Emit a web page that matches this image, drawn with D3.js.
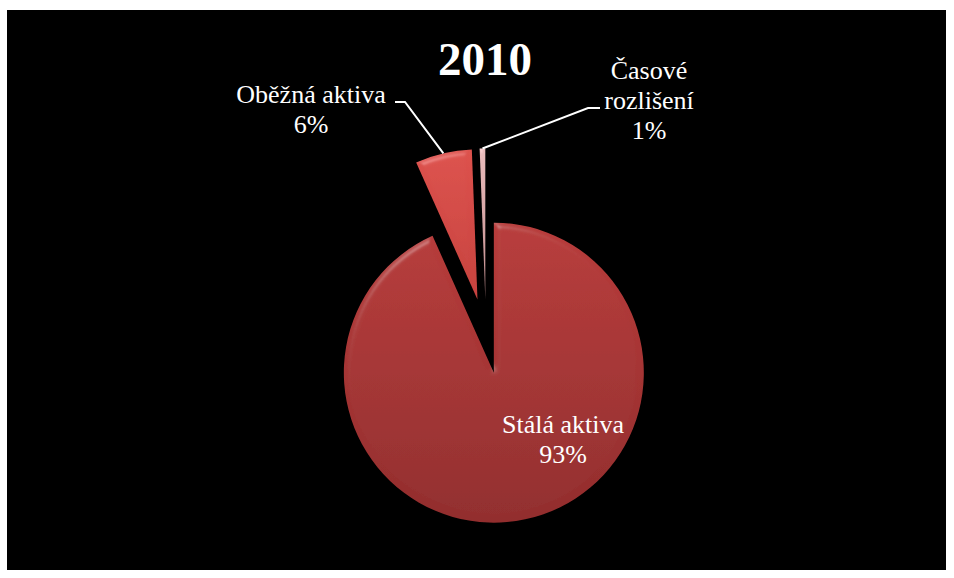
<!DOCTYPE html>
<html>
<head>
<meta charset="utf-8">
<script src="https://cdn.jsdelivr.net/npm/d3@7"></script>
<style>
  html, body { margin: 0; padding: 0; background: #fff; }
  svg { display: block; }
</style>
</head>
<body>
<div id="chart"></div>
<script>
// Asset structure for 2010 — three categories, shares in percent.
const categories = ["Stálá aktiva", "Oběžná aktiva", "Časové rozlišení"];
const shares = [93.3, 6.1, 0.6];
const percentLabels = ["93%", "6%", "1%"];
// Category names as Excel wrapped them.
const labelLines = [["Stálá aktiva"], ["Oběžná aktiva"], ["Časové", "rozlišení"]];
const title = "2010";

const WIDTH = 954;
const HEIGHT = 578;
const CENTER = [486, 336];
const RADIUS = 150;
const EXPLODE = 37.5; // 25% point explosion
const LINE_HEIGHT = 30;
const SERIF = "Liberation Serif, Times New Roman, Times, DejaVu Serif, serif";

// [top, bottom] gradient stops per slice
const SLICE_COLORS = [
    ["#b83c3b", "#922d2d"],
    ["#dd524d", "#c6423e"],
    ["#eabcbc", "#c08c8c"],
];

// Label anchor (centre x, first baseline) and leader-line elbows.
const LABEL_POS = [
    { x: 563, y: 433, leader: null },
    { x: 311, y: 103, leader: [[405, 102], [395, 102]] },
    { x: 649, y: 79, leader: [[588, 108], [600, 108]] },
];

const svg = d3.select("#chart").append("svg")
    .attr("width", WIDTH)
    .attr("height", HEIGHT);

svg.append("rect")
    .attr("x", 7).attr("y", 10)
    .attr("width", 939).attr("height", 560)
    .attr("fill", "#000");

const defs = svg.append("defs");

SLICE_COLORS.forEach(([c0, c1], i) => {
    const g = defs.append("linearGradient")
        .attr("id", `grad${i}`)
        .attr("x1", 0).attr("y1", 0).attr("x2", 0).attr("y2", 1);
    g.append("stop").attr("offset", "0%").attr("stop-color", c0);
    g.append("stop").attr("offset", "100%").attr("stop-color", c1);
});

// Soft bevel: specular light from the top-left on a blurred alpha edge.
const bevel = defs.append("filter").attr("id", "bevel")
    .attr("x", "-10%").attr("y", "-10%").attr("width", "120%").attr("height", "120%");
bevel.append("feGaussianBlur").attr("in", "SourceAlpha").attr("stdDeviation", 3).attr("result", "blur");
bevel.append("feSpecularLighting")
    .attr("in", "blur").attr("surfaceScale", 4).attr("specularConstant", 0.5)
    .attr("specularExponent", 30).attr("lighting-color", "#ffffff").attr("result", "spec")
    .append("fePointLight").attr("x", -4000).attr("y", -8000).attr("z", 6000);
bevel.append("feComposite").attr("in", "spec").attr("in2", "SourceAlpha")
    .attr("operator", "in").attr("result", "specOut");
bevel.append("feComposite").attr("in", "SourceGraphic").attr("in2", "specOut")
    .attr("operator", "arithmetic").attr("k1", 0).attr("k2", 1).attr("k3", 0.25).attr("k4", 0);

const pie = d3.pie().sort(null).value((d) => d);
const arcs = pie(shares);
const arc = d3.arc().innerRadius(0).outerRadius(RADIUS);

function offsetOf(d) {
    const mid = (d.startAngle + d.endAngle) / 2;
    return [Math.sin(mid) * EXPLODE, -Math.cos(mid) * EXPLODE];
}

const gPie = svg.append("g").attr("transform", `translate(${CENTER[0]},${CENTER[1]})`);

gPie.selectAll("path.slice")
    .data(arcs)
    .join("path")
    .attr("class", "slice")
    .attr("transform", (d) => `translate(${offsetOf(d)})`)
    .attr("d", arc)
    .attr("fill", (d, i) => `url(#grad${i})`)
    .attr("filter", "url(#bevel)");

// Leader lines run from the middle of the outer arc to the label elbow.
arcs.forEach((d, i) => {
    const pos = LABEL_POS[i];
    if (!pos.leader) return;
    const mid = (d.startAngle + d.endAngle) / 2;
    const [ox, oy] = offsetOf(d);
    const start = [
        CENTER[0] + ox + Math.sin(mid) * RADIUS,
        CENTER[1] + oy - Math.cos(mid) * RADIUS,
    ];
    svg.append("path")
        .attr("d", d3.line()([start, ...pos.leader]))
        .attr("fill", "none")
        .attr("stroke", "#fff")
        .attr("stroke-width", 2);
});

categories.forEach((name, i) => {
    const pos = LABEL_POS[i];
    const lines = [...labelLines[i], percentLabels[i]];
    const text = svg.append("text")
        .attr("font-family", SERIF)
        .attr("fill", "#fff")
        .attr("text-anchor", "middle")
        .attr("font-size", 26);
    lines.forEach((ln, j) => {
        text.append("tspan")
            .attr("x", pos.x)
            .attr("y", pos.y + j * LINE_HEIGHT)
            .text(ln);
    });
});

svg.append("text")
    .attr("font-family", SERIF)
    .attr("fill", "#fff")
    .attr("x", 485).attr("y", 75)
    .attr("text-anchor", "middle")
    .attr("font-size", 47)
    .attr("font-weight", "bold")
    .text(title);
</script>
</body>
</html>
